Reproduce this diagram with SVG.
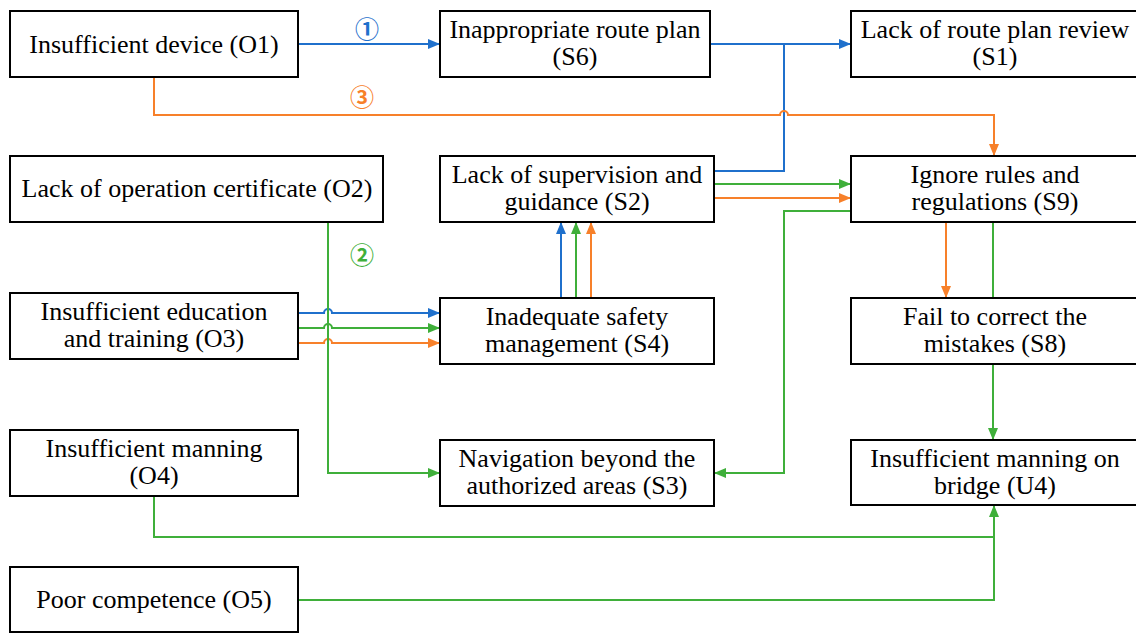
<svg xmlns="http://www.w3.org/2000/svg" width="1136" height="633" viewBox="0 0 1136 633">
  <style>
    .box { fill: #ffffff; stroke: #000000; stroke-width: 2; }
    .lbl { font-family: "Times New Roman", Times, "Liberation Serif", Tinos, "Noto Serif", "DejaVu Serif", serif; font-size: 26px; fill: #000000; text-anchor: middle; }
    .num { font-family: "Noto Sans CJK SC", "DejaVu Sans", sans-serif; font-size: 24px; font-weight: bold; text-anchor: middle; }
    .ln { fill: none; stroke-width: 2; }
    .b { stroke: #1F70CC; }
    .g { stroke: #3FAF3A; }
    .o { stroke: #F7802A; }
  </style>
  <defs>
    <marker id="ab" viewBox="0 0 12 10" refX="12" refY="5" markerWidth="12" markerHeight="10" markerUnits="userSpaceOnUse" orient="auto">
      <path d="M0,0 L12,5 L0,10 Z" fill="#1F70CC"/>
    </marker>
    <marker id="ag" viewBox="0 0 12 10" refX="12" refY="5" markerWidth="12" markerHeight="10" markerUnits="userSpaceOnUse" orient="auto">
      <path d="M0,0 L12,5 L0,10 Z" fill="#3FAF3A"/>
    </marker>
    <marker id="ao" viewBox="0 0 12 10" refX="12" refY="5" markerWidth="12" markerHeight="10" markerUnits="userSpaceOnUse" orient="auto">
      <path d="M0,0 L12,5 L0,10 Z" fill="#F7802A"/>
    </marker>
  </defs>

  <!-- connectors -->
  <g id="connectors">
    <!-- path 1 (blue) -->
    <path class="ln b" d="M298,44 H440" marker-end="url(#ab)"/>
    <path class="ln b" d="M710,44 H851" marker-end="url(#ab)"/>
    <path class="ln b" d="M714,171 H784 V44"/>
    <path class="ln b" d="M298,313 H324 a4,4 0 0 1 8,0 H440" marker-end="url(#ab)"/>
    <path class="ln b" d="M561,298 V222" marker-end="url(#ab)"/>

    <!-- path 3 (orange) -->
    <path class="ln o" d="M154,77 V115 H780 a4,4 0 0 1 8,0 H994 V156" marker-end="url(#ao)"/>
    <path class="ln o" d="M298,343 H324 a4,4 0 0 1 8,0 H440" marker-end="url(#ao)"/>
    <path class="ln o" d="M591,298 V222" marker-end="url(#ao)"/>
    <path class="ln o" d="M714,198 H851" marker-end="url(#ao)"/>
    <path class="ln o" d="M946,222 V298" marker-end="url(#ao)"/>

    <!-- path 2 (green) -->
    <path class="ln g" d="M328,222 V473 H440" marker-end="url(#ag)"/>
    <path class="ln g" d="M298,328 H324 a4,4 0 0 1 8,0 H440" marker-end="url(#ag)"/>
    <path class="ln g" d="M576,298 V222" marker-end="url(#ag)"/>
    <path class="ln g" d="M714,184 H851" marker-end="url(#ag)"/>
    <path class="ln g" d="M851,211 H784 V473 H714" marker-end="url(#ag)"/>
    <path class="ln g" d="M993,222 V298"/>
    <path class="ln g" d="M993,364 V440" marker-end="url(#ag)"/>
    <path class="ln g" d="M154,497 V537 H994 V505" marker-end="url(#ag)"/>
    <path class="ln g" d="M298,600 H994 V537"/>

    <text class="num" x="367" y="38" fill="#1F70CC">①</text>
    <text class="num" x="362" y="264" fill="#3FAF3A">②</text>
    <text class="num" x="362" y="106" fill="#F7802A">③</text>
  </g>

  <!-- nodes -->
  <g id="O1">
    <rect class="box" x="10" y="11" width="288" height="66"/>
    <text class="lbl" x="154" y="53">Insufficient device (O1)</text>
  </g>
  <g id="O2">
    <rect class="box" x="10" y="156" width="373" height="66"/>
    <text class="lbl" x="197" y="197">Lack of operation certificate (O2)</text>
  </g>
  <g id="O3">
    <rect class="box" x="10" y="293" width="288" height="66"/>
    <text class="lbl" x="154" y="320">Insufficient education</text>
    <text class="lbl" x="154" y="347">and training (O3)</text>
  </g>
  <g id="O4">
    <rect class="box" x="10" y="430" width="288" height="66"/>
    <text class="lbl" x="154" y="457">Insufficient manning</text>
    <text class="lbl" x="154" y="484">(O4)</text>
  </g>
  <g id="O5">
    <rect class="box" x="10" y="567" width="288" height="65"/>
    <text class="lbl" x="154" y="608">Poor competence (O5)</text>
  </g>
  <g id="S6">
    <rect class="box" x="440" y="11" width="270" height="66"/>
    <text class="lbl" x="575" y="38">Inappropriate route plan</text>
    <text class="lbl" x="575" y="65">(S6)</text>
  </g>
  <g id="S2">
    <rect class="box" x="440" y="156" width="274" height="66"/>
    <text class="lbl" x="577" y="183">Lack of supervision and</text>
    <text class="lbl" x="577" y="210">guidance (S2)</text>
  </g>
  <g id="S4">
    <rect class="box" x="440" y="298" width="274" height="66"/>
    <text class="lbl" x="577" y="325">Inadequate safety</text>
    <text class="lbl" x="577" y="352">management (S4)</text>
  </g>
  <g id="S3">
    <rect class="box" x="440" y="440" width="274" height="66"/>
    <text class="lbl" x="577" y="467">Navigation beyond the</text>
    <text class="lbl" x="577" y="494">authorized areas (S3)</text>
  </g>
  <g id="S1">
    <rect class="box" x="851" y="11" width="288" height="66"/>
    <text class="lbl" x="995" y="38">Lack of route plan review</text>
    <text class="lbl" x="995" y="65">(S1)</text>
  </g>
  <g id="S9">
    <rect class="box" x="851" y="156" width="288" height="66"/>
    <text class="lbl" x="995" y="183">Ignore rules and</text>
    <text class="lbl" x="995" y="210">regulations (S9)</text>
  </g>
  <g id="S8">
    <rect class="box" x="851" y="298" width="288" height="66"/>
    <text class="lbl" x="995" y="325">Fail to correct the</text>
    <text class="lbl" x="995" y="352">mistakes (S8)</text>
  </g>
  <g id="U4">
    <rect class="box" x="851" y="440" width="288" height="65"/>
    <text class="lbl" x="995" y="467">Insufficient manning on</text>
    <text class="lbl" x="995" y="494">bridge (U4)</text>
  </g>
</svg>
